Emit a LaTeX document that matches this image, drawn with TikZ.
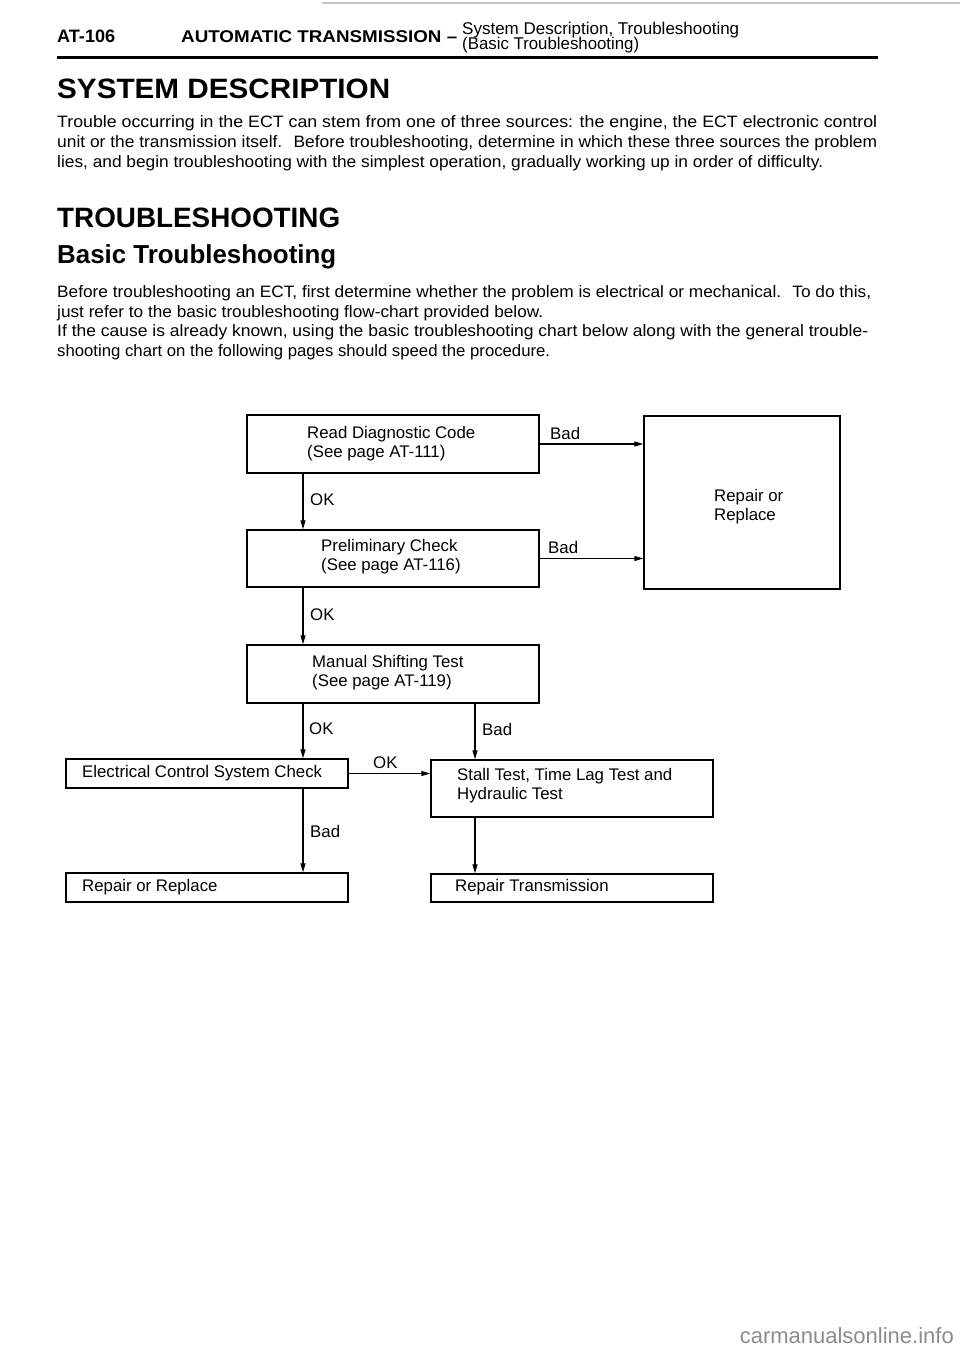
\documentclass[tikz,border=0pt]{standalone}
\usepackage{fontspec}
\setmainfont{Liberation Sans}
\usepackage{graphicx}
\usetikzlibrary{arrows.meta}
\newcommand\fitline[2]{\resizebox{#1}{\height}{#2}}
\definecolor{wm}{gray}{0.55}
\begin{document}
\begin{tikzpicture}[x=1pt,y=-1pt,
  box/.style={draw, line width=1.4pt, inner sep=0pt},
  boxtext/.style={font=\fontsize{16.8}{19}\selectfont, inner sep=0pt, anchor=west, align=left},
  arr/.style={line width=1.2pt, -{Triangle[length=9pt,width=5pt]}},
  lbl/.style={font=\fontsize{16.8}{19}\selectfont, inner sep=0pt, anchor=west},
  body/.style={font=\fontsize{16.5}{19}\selectfont, inner sep=0pt, anchor=base west},
  head/.style={font=\bfseries\fontsize{28}{32}\selectfont, inner sep=0pt, anchor=base west},
  hdr/.style={inner sep=0pt, anchor=base west}]
\fill[white] (0,0) rectangle (960,1356);
\useasboundingbox (0,0) rectangle (960,1356);

% faint scan line at the very top
\draw[gray!45, line width=1.2pt] (322,3) -- (960,3);

% page header
\node[hdr, font=\bfseries\fontsize{18}{20}\selectfont] (pg) at (57,43) {\fitline{58pt}{AT-106}};
\node[hdr, font=\bfseries\fontsize{17}{20}\selectfont] (sec) at (181,43) {\fitline{276pt}{AUTOMATIC TRANSMISSION --}};
\node[hdr, font=\fontsize{17}{19}\selectfont] (sub1) at (462,35) {\fitline{277pt}{System Description, Troubleshooting}};
\node[hdr, font=\fontsize{17}{19}\selectfont] (sub2) at (462,50) {\fitline{177pt}{(Basic Troubleshooting)}};
\draw[line width=3pt] (57,58) -- (878,58);

% system description
\node[head] (h1) at (57,99) {\fitline{333pt}{SYSTEM DESCRIPTION}};
\node[body] (p1a) at (57,128) {\fitline{820pt}{Trouble occurring in the ECT can stem from one of three sources: the engine, the ECT electronic control}};
\node[body] (p1b) at (57,148) {\fitline{820pt}{unit or the transmission itself.~ Before troubleshooting, determine in which these three sources the problem}};
\node[body] (p1c) at (57,168) {\fitline{766pt}{lies, and begin troubleshooting with the simplest operation, gradually working up in order of difficulty.}};

% troubleshooting
\node[head] (h2) at (57,228) {\fitline{283pt}{TROUBLESHOOTING}};
\node[head, font=\bfseries\fontsize{26}{30}\selectfont] (h3) at (57,263) {\fitline{279pt}{Basic Troubleshooting}};
\node[body] (p2a) at (57,297) {\fitline{814pt}{Before troubleshooting an ECT, first determine whether the problem is electrical or mechanical.~ To do this,}};
\node[body] (p2b) at (57,317) {\fitline{486pt}{just refer to the basic troubleshooting flow-chart provided below.}};
\node[body] (p2c) at (57,336) {\fitline{811pt}{If the cause is already known, using the basic troubleshooting chart below along with the general trouble-}};
\node[body] (p2d) at (57,356) {\fitline{493pt}{shooting chart on the following pages should speed the procedure.}};

% flow chart
\coordinate (xa) at (303,0);
\coordinate (xb) at (475,0);

\node[box, minimum width=292pt, minimum height=58pt] (rd) at (393,444) {};
\node[box, minimum width=292pt, minimum height=57pt] (pc) at (393,558.5) {};
\node[box, minimum width=292pt, minimum height=58pt] (ms) at (393,674) {};
\node[box, minimum width=196pt, minimum height=173pt] (rr) at (742,502.5) {};
\node[box, minimum width=282pt, minimum height=29pt] (ec) at (207,773.5) {};
\node[box, minimum width=282pt, minimum height=29pt] (rp) at (207,887.5) {};
\node[box, minimum width=282pt, minimum height=57pt] (st) at (572,788.5) {};
\node[box, minimum width=282pt, minimum height=28pt] (rt) at (572,888) {};

\node[boxtext] (rdt) at (307,444) {Read Diagnostic Code\\(See page AT-111)};
\node[boxtext] (pct) at (321,557) {Preliminary Check\\(See page AT-116)};
\node[boxtext] (mst) at (312,673) {Manual Shifting Test\\(See page AT-119)};
\node[boxtext] (rrt) at (714,507) {Repair or\\Replace};
\node[boxtext] (ect) at (82,773.5) {Electrical Control System Check};
\node[boxtext] (rpt) at (82,887.5) {Repair or Replace};
\node[boxtext] (stt) at (457,786) {Stall Test, Time Lag Test and\\Hydraulic Test};
\node[boxtext] (rtt) at (455,887.5) {Repair Transmission};

\draw[arr] (rd.east) -- (rd.east -| rr.west);
\draw[arr] (pc.east) -- (pc.east -| rr.west);
\draw[arr] (rd.south -| xa) -- (pc.north -| xa);
\draw[arr] (pc.south -| xa) -- (ms.north -| xa);
\draw[arr] (ms.south -| xa) -- (ec.north -| xa);
\draw[arr] (ms.south -| xb) -- (st.north -| xb);
\draw[arr] (ec.east) -- (ec.east -| st.west);
\draw[arr] (ec.south -| xa) -- (rp.north -| xa);
\draw[arr] (st.south -| xb) -- (rt.north -| xb);

\node[lbl] (b1) at (550,433) {Bad};
\node[lbl] (b2) at (548,547) {Bad};
\node[lbl] (o1) at (310,500) {OK};
\node[lbl] (o2) at (310,615) {OK};
\node[lbl] (o3) at (309,729) {OK};
\node[lbl] (b3) at (482,729) {Bad};
\node[lbl] (o4) at (373,763) {OK};
\node[lbl] (b4) at (310,831) {Bad};

% watermark
\node[inner sep=0pt, anchor=base east, text=wm, font=\fontsize{22}{24}\selectfont] (wmk) at (954,1343) {carmanualsonline.info};
\end{tikzpicture}
\end{document}
